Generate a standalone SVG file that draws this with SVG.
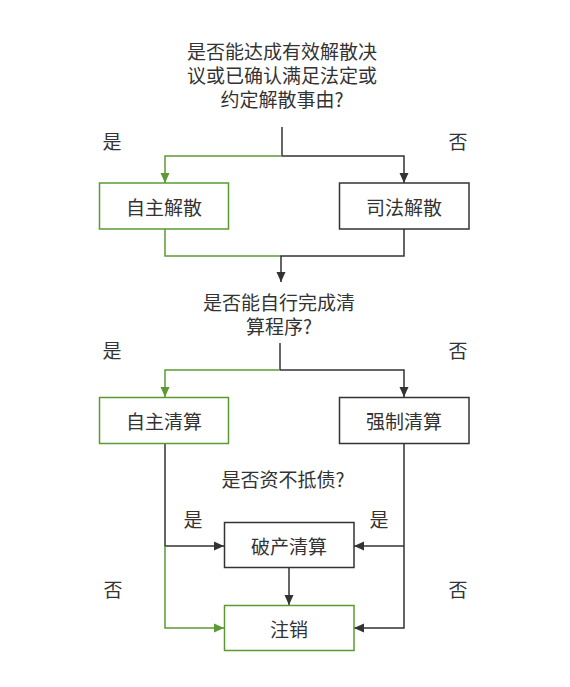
<svg xmlns="http://www.w3.org/2000/svg" width="570" height="687" viewBox="0 0 570 687">
<style>
text{font-family:"Noto Sans CJK SC","Noto Sans",sans-serif;font-size:19px;fill:#333;text-anchor:middle;dominant-baseline:central}
.box{fill:#fff;stroke:#333;stroke-width:1.5}
.gbox{fill:#fff;stroke:#5b9a32;stroke-width:1.5}
.ln{fill:none;stroke:#333;stroke-width:1.5}
.gl{fill:none;stroke:#5b9a32;stroke-width:1.5}
</style>
<defs>
<marker id="ad" viewBox="0 0 10 10" refX="10" refY="5" markerWidth="10" markerHeight="10" markerUnits="userSpaceOnUse" orient="auto"><path d="M0,0.5 L10,5 L0,9.5 Z" fill="#333"/></marker>
<marker id="ag" viewBox="0 0 10 10" refX="10" refY="5" markerWidth="10" markerHeight="10" markerUnits="userSpaceOnUse" orient="auto"><path d="M0,0.5 L10,5 L0,9.5 Z" fill="#5b9a32"/></marker>
</defs>
<g id="connectors">
<path class="ln" d="M282,127 V156"/>
<path class="gl" d="M282,156 H165 V183" marker-end="url(#ag)"/>
<path class="ln" d="M282,156 H404 V183" marker-end="url(#ad)"/>
<path class="gl" d="M165,229 V256 H281"/>
<path class="ln" d="M404,229 V256 H281 V282" marker-end="url(#ad)"/>
<path class="ln" d="M280,343 V370"/>
<path class="gl" d="M280,370 H165 V397" marker-end="url(#ag)"/>
<path class="ln" d="M280,370 H404 V397" marker-end="url(#ad)"/>
<path class="ln" d="M165,444 V546 H224" marker-end="url(#ad)"/>
<path class="gl" d="M165,546 V628 H224" marker-end="url(#ag)"/>
<path class="ln" d="M404,444 V628 H354" marker-end="url(#ad)"/>
<path class="ln" d="M404,546 H354" marker-end="url(#ad)"/>
<path class="ln" d="M289,568 V605" marker-end="url(#ad)"/>
</g>
<g id="q1">
<text x="282" y="50">是否能达成有效解散决</text>
<text x="282" y="74">议或已确认满足法定或</text>
<text x="282" y="98">约定解散事由?</text>
</g>
<g id="labels">
<text x="112" y="140">是</text>
<text x="458" y="140">否</text>
<text x="112" y="349">是</text>
<text x="458" y="349">否</text>
<text x="193" y="518">是</text>
<text x="379" y="518">是</text>
<text x="113" y="588">否</text>
<text x="458" y="588">否</text>
</g>
<g id="n1"><rect class="gbox" x="99.5" y="183" width="129" height="46"/><text x="164" y="206">自主解散</text></g>
<g id="n2"><rect class="box" x="339.5" y="183" width="129.5" height="46"/><text x="404" y="206">司法解散</text></g>
<g id="q2">
<text x="279" y="301">是否能自行完成清</text>
<text x="279" y="325">算程序?</text>
</g>
<g id="n3"><rect class="gbox" x="99.5" y="397.5" width="129" height="46"/><text x="164" y="420.5">自主清算</text></g>
<g id="n4"><rect class="box" x="339.5" y="397.5" width="129.5" height="46"/><text x="404" y="420.5">强制清算</text></g>
<g id="q3"><text x="283" y="478">是否资不抵债?</text></g>
<g id="n5"><rect class="box" x="224.5" y="522.5" width="129.5" height="45"/><text x="289" y="545">破产清算</text></g>
<g id="n6"><rect class="gbox" x="224.5" y="605.5" width="129.5" height="45"/><text x="289" y="628">注销</text></g>
</svg>
